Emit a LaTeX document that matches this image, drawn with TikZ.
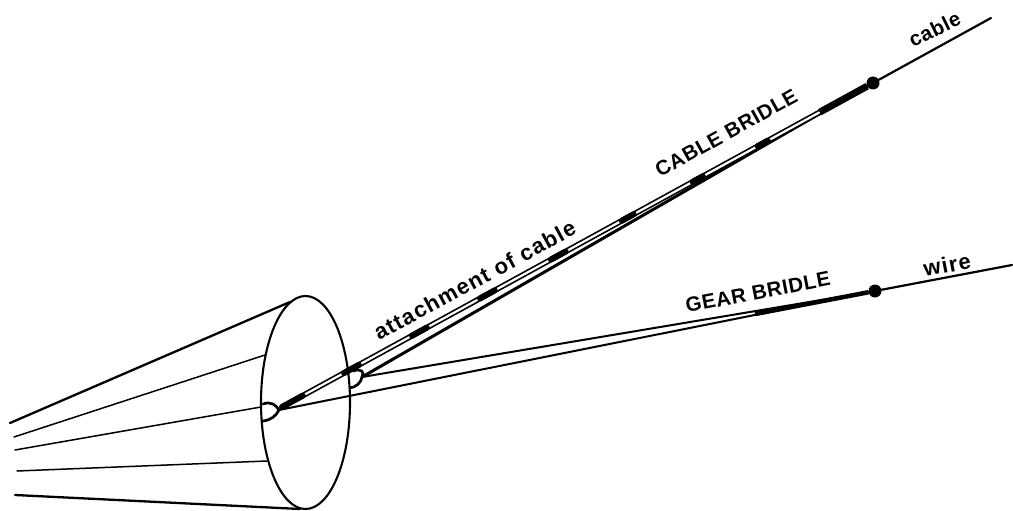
\documentclass[tikz,border=0pt]{standalone}
\usepackage{fontspec}
\setmainfont{Liberation Sans}
\newfontfamily\widesmall[LetterSpace=3]{Liberation Sans}
\newfontfamily\widelarge[LetterSpace=5.5]{Liberation Sans}
\usetikzlibrary{calc,shapes.geometric}
\tikzset{
  outline/.style={line width=2.7pt,black,line cap=round},
  thin rib/.style={line width=1.5pt,black,line cap=round},
  heavy rib/.style={line width=2.3pt,black,line cap=round},
  strand/.style={line width=2pt,black,line cap=round},
  heavy strand/.style={line width=3pt,black,line cap=round},
  pair outer/.style={line width=5.6pt,black},
  pair inner/.style={line width=2.2pt,white},
  patch/.style={line width=6pt,black,line cap=round},
  knot/.style={circle,fill=black,inner sep=0pt,minimum size=13pt},
  label text/.style={inner sep=0pt,anchor=base west,font=\widesmall\fontsize{20.5}{20.5}\selectfont\bfseries},
  wide text/.style={inner sep=0pt,anchor=base west,font=\widelarge\fontsize{22}{22}\selectfont\bfseries},
}
\begin{document}
\begin{tikzpicture}[x=1pt,y=-1pt]
\useasboundingbox (0,0) rectangle (1013,511);
% canopy mouth
\node[ellipse,draw,line width=2.1pt,inner sep=0pt,minimum width=89pt,minimum height=213pt] (mouth) at (305.5,402.5) {};
% canopy free ends and rim points
\coordinate (e1) at (10,423);  \coordinate (r1) at (290,302);
\coordinate (e2) at (14,437);  \coordinate (r2) at (265,355);
\coordinate (e3) at (15,450);  \coordinate (r3) at (261,407);
\coordinate (e4) at (17,471);  \coordinate (r4) at (267,461);
\coordinate (e5) at (15,495);  \coordinate (r5) at (300,509);
\draw[heavy rib] (e1) -- (r1);
\draw[thin rib] (e2) -- (r2);
\draw[thin rib] (e3) -- (r3);
\draw[thin rib] (e4) -- (r4);
\draw[heavy rib] (e5) -- (r5);
% attachment points
\coordinate (tipA) at (279,410);
\coordinate (tipB) at (362,377);
\node[knot] (cabledot) at (873,83) {};
\node[knot] (geardot) at (875,291) {};
\coordinate (cableend) at (991,18);
\coordinate (wireend) at (1012,265);
% loops
\draw[outline] (263,404) .. controls (271,401) and (276,405) .. (tipA) .. controls (276,416) and (271,420) .. (263,421);
\draw[outline] (353,371) .. controls (361,368) and (365,372) .. (tipB) .. controls (361,383) and (356,387) .. (350,388);
% gear bridle
\draw[strand] (tipB) -- (geardot);
\draw[strand] (tipA) -- (geardot);
\coordinate (gearmerge) at (755,314);
\draw[line width=4.5pt,black] (gearmerge) -- (geardot);
% cable bridle
\draw[heavy strand] (tipB) -- (cabledot);
\coordinate (pairstart) at (282,407);
\draw[pair outer] (pairstart) -- (cabledot);
\coordinate (whiteend) at ($(pairstart)!0.91!(cabledot)$);
\draw[pair inner] (pairstart) -- (whiteend);
\coordinate (mergestart) at ($(pairstart)!0.91!(cabledot)$);
\draw[line width=7pt,black] (mergestart) -- (cabledot);
% black patches
\foreach \a/\b in {0.0/0.035,0.105/0.13,0.22/0.245,0.335/0.36,0.455/0.48,0.575/0.595,0.695/0.712,0.805/0.822}{
  \draw[patch] ($(pairstart)!\a!(cabledot)$) -- ($(pairstart)!\b!(cabledot)$);
}
% outer wires
\draw[strand,line width=2.2pt] (cabledot) -- (cableend);
\draw[strand,line width=2.2pt] (geardot) -- (wireend);
% labels
\node[wide text,rotate=28.5] (lattach) at (379,341) {attachment of cable};
\node[label text,rotate=29] (lcable) at (660,178) {CABLE BRIDLE};
\node[label text,rotate=11] (lgear) at (687,313) {GEAR BRIDLE};
\node[label text,rotate=26] (lc) at (913,48) {cable};
\node[wide text,rotate=11] (lw) at (925,277) {wire};
\end{tikzpicture}
\end{document}
